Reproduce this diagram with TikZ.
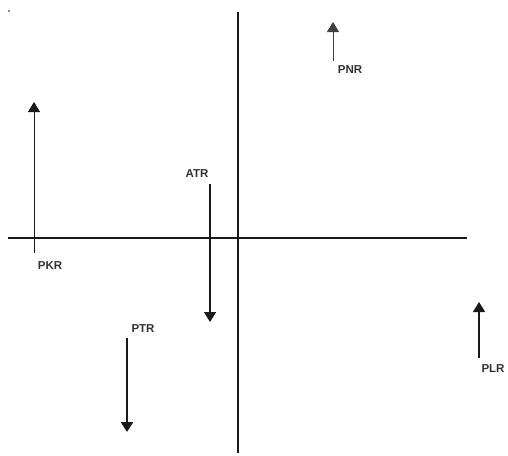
\documentclass[tikz,border=0pt]{standalone}
\usepackage{fontspec}
\setmainfont{Liberation Sans}
\usetikzlibrary{arrows.meta}
\begin{document}
\begin{tikzpicture}[x=1pt,y=-1pt,
  axis/.style={line width=1.6pt,black!90},
  vec/.style={-{Triangle[width=12pt,length=10pt]},black!90},
  lbl/.style={font=\fontsize{11.5}{14}\selectfont\bfseries,text=black!80,inner sep=0pt}]
\useasboundingbox[fill=white] (0,0) rectangle (508,455);
% small speck in the corner
\fill[black!45] (7.5,10) rectangle (9.5,12);
% axes
\coordinate (yt) at (238,12);
\coordinate (yb) at (238,453);
\coordinate (xl) at (8,238);
\coordinate (xr) at (467,238);
\draw[axis] (yt) -- (yb);
\draw[axis] (xl) -- (xr);
% vectors
\coordinate (pkr0) at (34,253);  \coordinate (pkr1) at (34,102);
\coordinate (atr0) at (210,184); \coordinate (atr1) at (210,322);
\coordinate (ptr0) at (127,338); \coordinate (ptr1) at (127,432);
\coordinate (pnr0) at (333,61);  \coordinate (pnr1) at (333,22);
\coordinate (plr0) at (479,358); \coordinate (plr1) at (479,302);
\draw[vec,line width=0.8pt] (pkr0) -- (pkr1);
\draw[vec,line width=1.6pt] (atr0) -- (atr1);
\draw[vec,line width=2.6pt] (ptr0) -- (ptr1);
\draw[vec,line width=0.8pt,black!75] (pnr0) -- (pnr1);
\draw[vec,line width=1.6pt] (plr0) -- (plr1);
% labels
\node[lbl] (pkr) at (50,266) {PKR};
\node[lbl] (atr) at (197,174) {ATR};
\node[lbl] (ptr) at (143,329) {PTR};
\node[lbl] (pnr) at (350,70) {PNR};
\node[lbl] (plr) at (493,369) {PLR};
\end{tikzpicture}
\end{document}
